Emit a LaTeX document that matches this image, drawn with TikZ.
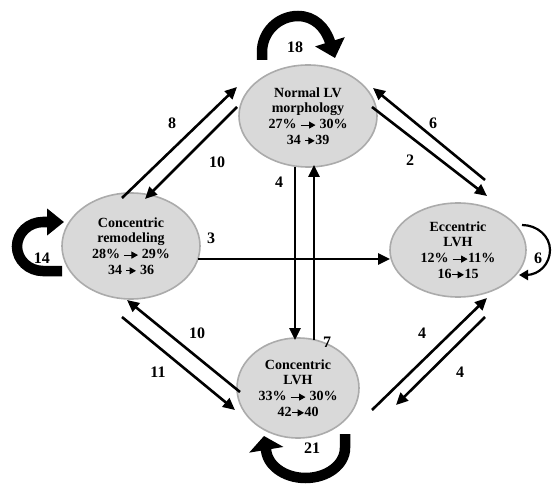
\documentclass[tikz,border=0pt]{standalone}
\usepackage{fontspec}
\setmainfont{Liberation Serif}
\usetikzlibrary{arrows.meta,calc,shapes.geometric}
\tikzset{
  state/.style={ellipse, draw=black!33, line width=1.6pt, fill=black!15, inner sep=0pt,
    align=center, font=\fontsize{14}{15.7}\selectfont\bfseries},
  conn/.style={line width=2.6pt, -{Triangle[length=12pt,width=11pt]}},
  lbl/.style={font=\fontsize{16}{17}\selectfont\bfseries, inner sep=0pt},
  bigloop/.style={line width=10.5pt, line cap=butt},
  thinloop/.style={line width=2.2pt, -{Triangle[length=9pt,width=10pt]}},
}
\newcommand{\tarr}[1]{\tikz[baseline=-0.55ex]\draw[line width=1pt,-{Triangle[length=6.5pt,width=7pt]}] (0pt,0pt)--(#1,0pt);}
\begin{document}
\begin{tikzpicture}[x=1pt,y=-1pt]
\fill[white] (0,0) rectangle (560,492);
\useasboundingbox (0,0) rectangle (560,492);

% states
\node[state, minimum width=138pt, minimum height=102pt] (N) at (308,116)
  {Normal LV\\morphology\\27\% \tarr{15pt} 30\%\\34 \tarr{10pt}39};
\node[state, minimum width=138pt, minimum height=106pt] (R) at (131,246)
  {Concentric\\remodeling\\28\% \tarr{14pt} 29\%\\34 \tarr{10pt} 36};
\node[state, minimum width=136pt, minimum height=94pt] (E) at (458,250)
  {Eccentric\\LVH\\12\% \tarr{15pt}11\%\\16\tarr{12pt}15};
\node[state, minimum width=122pt, minimum height=100pt] (C) at (298,388)
  {Concentric\\LVH\\33\% \tarr{15pt} 30\%\\42\tarr{12pt}40};

% transitions
\draw[conn] ($(R.center)+(-9,-48)$) -- ($(N.center)+(-71,-29)$);
\draw[conn] ($(N.center)+(-71,-9)$) -- ($(R.center)+(14,-47)$);
\draw[conn] ($(E.center)+(27,-70)$) -- ($(N.center)+(65,-28)$);
\draw[conn] ($(N.center)+(64,-9)$) -- ($(E.center)+(29,-54)$);
\draw[conn] ($(N.center)+(-13,51)$) -- ($(C.center)+(-3,-48)$);
\draw[conn] ($(C.center)+(16,-48)$) -- ($(N.center)+(6,49)$);
\draw[conn] ($(R.center)+(67,13)$) -- ($(E.center)+(-68,9)$);
\draw[conn] ($(C.center)+(-58,4)$) -- ($(R.center)+(-4,54)$);
\draw[conn] ($(R.center)+(-9,71)$) -- ($(C.center)+(-63,22)$);
\draw[conn] ($(C.center)+(74,22)$) -- ($(E.center)+(29,48)$);
\draw[conn] ($(E.center)+(27,67)$) -- ($(C.center)+(98,17)$);

% self loops
\begin{scope}[shift={(N.center)}, shift={(-308,-116)}]
\draw[bigloop, -{Triangle[length=17pt,width=30pt]}] (262,60) -- (262,52)
  .. controls (262,32.1) and (278.1,16) .. (298,16)
  .. controls (313.7,16) and (325.3,27) .. (330,42) -- (335,58);
\end{scope}
\begin{scope}[shift={(R.center)}, shift={(-131,-246)}]
\draw[bigloop, -{Triangle[length=17pt,width=26pt]}] (62,271) -- (43,271)
  .. controls (28.6,271) and (17,259.8) .. (17,246.5)
  .. controls (17,233.2) and (28.6,222) .. (43,222) -- (64,222);
\end{scope}
\begin{scope}[shift={(E.center)}, shift={(-458,-250)}]
\draw[thinloop] (522,225) .. controls (537.3,225) and (550,236.2) .. (550,250)
  .. controls (550,263.8) and (539.3,275) .. (526,275) -- (519,275);
\end{scope}
\begin{scope}[shift={(C.center)}, shift={(-298,-388)}]
\draw[bigloop, -{Triangle[length=14pt,width=34pt]}] (345,434) -- (345,448)
  .. controls (345,464.6) and (327.3,478) .. (305.5,478)
  .. controls (283.7,478) and (266,464.6) .. (266,448) -- (264,436);
\end{scope}

% labels
\node[lbl] (l18) at (295,47) {18};
\node[lbl] (l14) at (42,258) {14};
\node[lbl] (l6r) at (538,258) {6};
\node[lbl] (l21) at (312,448) {21};
\node[lbl] (l8) at (172,123) {8};
\node[lbl] (l10a) at (217,162) {10};
\node[lbl] (l6) at (433,123) {6};
\node[lbl] (l2) at (410,160) {2};
\node[lbl] (l4v) at (279,182) {4};
\node[lbl] (l7) at (327,342) {7};
\node[lbl] (l3) at (211,238) {3};
\node[lbl] (l10b) at (197,333) {10};
\node[lbl] (l11) at (158,372) {11};
\node[lbl] (l4a) at (422,333) {4};
\node[lbl] (l4b) at (460,372) {4};
\end{tikzpicture}
\end{document}
